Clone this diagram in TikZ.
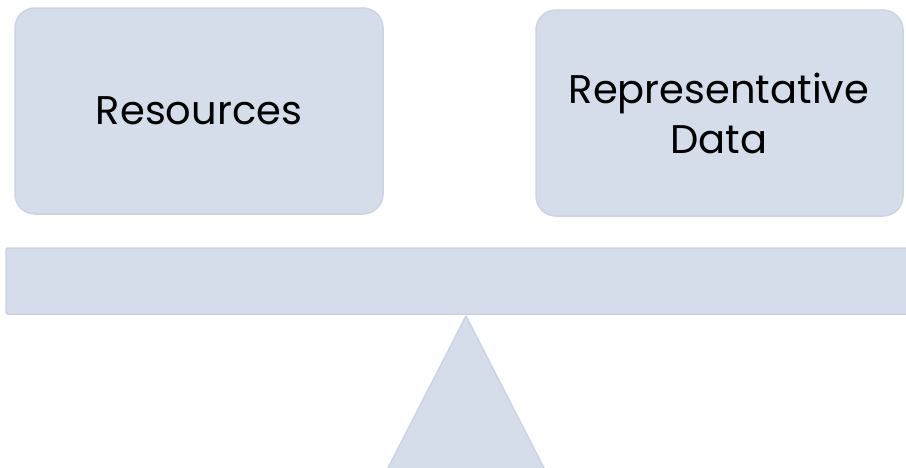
\documentclass[tikz,border=0pt]{standalone}
\usepackage{fontspec}
\setmainfont{Poppins}
\definecolor{boxfill}{HTML}{D5DCEA}
\definecolor{boxedge}{HTML}{CBD3E5}
\begin{document}
\begin{tikzpicture}[x=1pt,y=-1pt,
  panel/.style={fill=boxfill,draw=boxedge,line width=1.5pt},
  card/.style={panel,rounded corners=20pt},
  label/.style={font=\fontsize{40}{50}\selectfont,align=center,text=black}]
\useasboundingbox (0,0) rectangle (906,467);
\draw[card] (15,8) rectangle (383,214);
\node[label] (res) at (199,111) {Resources};
\draw[card] (536,10) rectangle (903,216);
\node[label] (rep) at (719,113) {Representative\\Data};
\draw[panel,rounded corners=2pt] (6,248) rectangle (920,314);
\draw[panel,line join=round] (466,316) -- (545,470) -- (387,470) -- cycle;
\end{tikzpicture}
\end{document}
